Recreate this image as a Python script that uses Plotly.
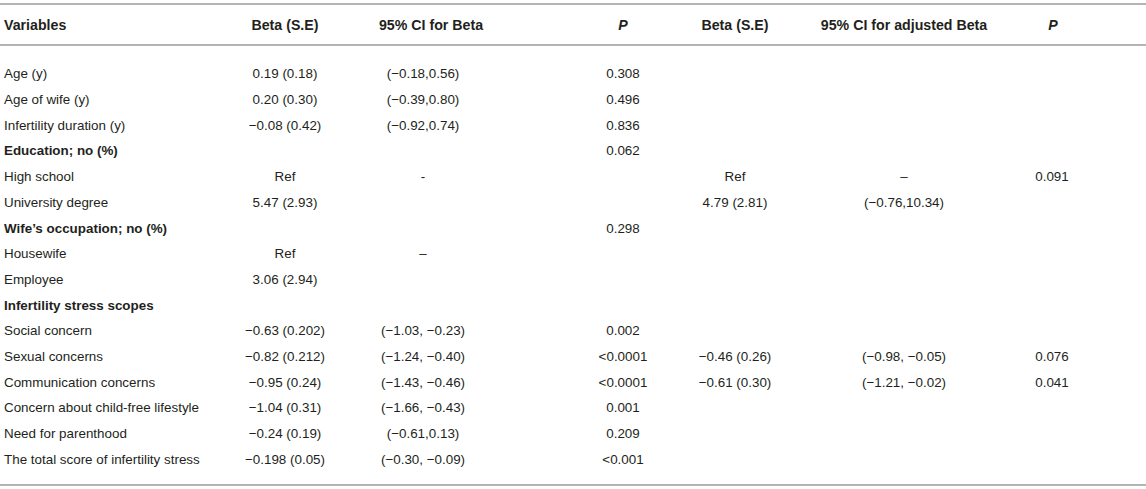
import plotly.graph_objects as go

# dados da tabela
variaveis = [
    "Age (y)", "Age of wife (y)", "Infertility duration (y)", "Education; no (%)",
    "High school", "University degree", "Wife’s occupation; no (%)", "Housewife",
    "Employee", "Infertility stress scopes", "Social concern", "Sexual concerns",
    "Communication concerns", "Concern about child-free lifestyle",
    "Need for parenthood", "The total score of infertility stress",
]
linhas_negrito = ["Education; no (%)", "Wife’s occupation; no (%)", "Infertility stress scopes"]

beta_se = ["0.19 (0.18)", "0.20 (0.30)", "−0.08 (0.42)", "", "Ref", "5.47 (2.93)", "",
           "Ref", "3.06 (2.94)", "", "−0.63 (0.202)", "−0.82 (0.212)", "−0.95 (0.24)",
           "−1.04 (0.31)", "−0.24 (0.19)", "−0.198 (0.05)"]
ic_beta = ["(−0.18,0.56)", "(−0.39,0.80)", "(−0.92,0.74)", "", "-", "", "", "–", "", "",
           "(−1.03, −0.23)", "(−1.24, −0.40)", "(−1.43, −0.46)", "(−1.66, −0.43)",
           "(−0.61,0.13)", "(−0.30, −0.09)"]
p_valor = ["0.308", "0.496", "0.836", "0.062", "", "", "0.298", "", "", "",
           "0.002", "&lt;0.0001", "&lt;0.0001", "0.001", "0.209", "&lt;0.001"]
beta_aj = ["", "", "", "", "Ref", "4.79 (2.81)", "", "", "", "", "",
           "−0.46 (0.26)", "−0.61 (0.30)", "", "", ""]
ic_aj = ["", "", "", "", "–", "(−0.76,10.34)", "", "", "", "", "",
         "(−0.98, −0.05)", "(−1.21, −0.02)", "", "", ""]
p_aj = ["", "", "", "", "0.091", "", "", "", "", "", "", "0.076", "0.041", "", "", ""]

cabecalhos = ["Variables", "Beta (S.E)", "95% CI for Beta", "<i>P</i>",
              "Beta (S.E)", "95% CI for adjusted Beta", "<i>P</i>"]

# posicoes das colunas (px)
x_cab = [4, 285, 431, 623, 735, 904, 1053]
x_val = [4, 285, 423, 623, 735, 904, 1052]

FONTE = "Liberation Sans, Arial, Helvetica, sans-serif"
COR_TXT = "#231f20"
COR_LINHA = "#b4b4b4"
TAM = 13.4
TAM_CAB = 14.2

linhas = list(range(len(variaveis)))
fig = go.Figure()

# cabecalho
for i, (cab, xc) in enumerate(zip(cabecalhos, x_cab)):
    fig.add_trace(go.Scatter(
        x=[xc], y=[-1.907], mode="text", text=[f"<b>{cab}</b>"],
        textposition="middle right" if i == 0 else "middle center",
        textfont=dict(family=FONTE, size=TAM_CAB, color=COR_TXT),
        hoverinfo="skip", showlegend=False,
    ))

# primeira coluna
textos_var = [f"<b>{v}</b>" if v in linhas_negrito else v for v in variaveis]
fig.add_trace(go.Scatter(
    x=[x_val[0]] * len(variaveis), y=linhas, mode="text", text=textos_var,
    textposition="middle right",
    textfont=dict(family=FONTE, size=TAM, color=COR_TXT),
    hoverinfo="skip", showlegend=False,
))

# demais colunas
for col, xc in zip([beta_se, ic_beta, p_valor, beta_aj, ic_aj, p_aj], x_val[1:]):
    fig.add_trace(go.Scatter(
        x=[xc] * len(col), y=linhas, mode="text", text=col,
        textposition="middle center",
        textfont=dict(family=FONTE, size=TAM, color=COR_TXT),
        hoverinfo="skip", showlegend=False,
    ))

# linhas horizontais
for yl in [-2.763, -1.167, 15.952]:
    fig.add_shape(type="line", x0=0, x1=1146, y0=yl, y1=yl,
                  line=dict(color=COR_LINHA, width=2))

fig.update_layout(
    width=1146, height=489,
    margin=dict(l=0, r=0, t=0, b=0),
    paper_bgcolor="white", plot_bgcolor="white",
    xaxis=dict(range=[0, 1146], visible=False, fixedrange=True),
    yaxis=dict(range=[16.109, -2.918], visible=False, fixedrange=True),
)

# tira a margem padrao do body para a figura ocupar a janela toda
fig.write_html("out.html", config={"displayModeBar": False},
               post_script="document.body.style.margin='0';document.body.style.overflow='hidden';")
